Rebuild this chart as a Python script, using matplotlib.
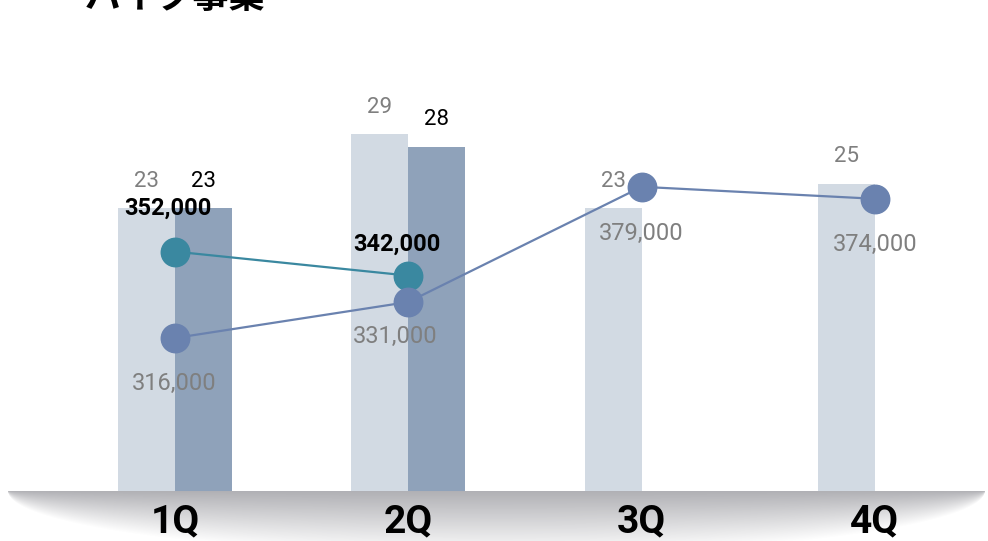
import numpy as np
import matplotlib
matplotlib.use("Agg")
import matplotlib.pyplot as plt

# ---- data ----
quarters = ["1Q", "2Q", "3Q", "4Q"]
units_light = [23, 29, 23, 25]          # light bars
units_dark = [23, 28, None, None]       # dark bars
price_teal = [352000, 342000, None, None]
price_blue = [316000, 331000, 379000, 374000]
title = "バイク事業"

# ---- style ----
W, H, DPI = 988, 541, 100
LIGHT = "#d2dae3"
DARK = "#8fa2ba"
TEAL = "#3a88a0"
BLUE = "#6a82af"
NUM_FONT = ["Roboto", "DejaVu Sans"]
teal_offsets = [(-7, 43), (-11, 31)]          # px: (dx, up)
blue_offsets = [(-1, 45), (-13, 34), (0, 47), (0, 46)]  # px: (dx, down)

fig = plt.figure(figsize=(W / DPI, H / DPI), dpi=DPI)
fig.patch.set_facecolor("white")

# floor shading under the baseline
base_px = 491
bg = fig.add_axes([0, 0, 1, 1], zorder=0)
bg.set_xlim(0, W)
bg.set_ylim(H, 0)
bg.axis("off")
xs = np.arange(W) + 0.5
ys = np.arange(base_px, H) + 0.5
X, Y = np.meshgrid(xs, ys)
a, b = 488.0, 64.0
depth = b * np.sqrt(np.clip(1 - ((X - 496) / a) ** 2, 0, 1))
t = np.where(depth > 0, (Y - base_px) / np.maximum(depth, 1e-6), 1.0)
alpha = np.clip(1 - t, 0, 1) * 0.86
img = np.zeros(X.shape + (4,))
img[..., 0] = 0.64
img[..., 1] = 0.64
img[..., 2] = 0.66
img[..., 3] = alpha
bg.imshow(img, extent=(0, W, H, base_px), aspect="auto", interpolation="bilinear")

# main axes: baseline at 491 px, category centres 175 + 233.33*i px
spacing = 233.33
ax = fig.add_axes([0, (H - base_px) / H, 1, base_px / H], zorder=2)
ax.patch.set_alpha(0)
ax.set_xlim(-175 / spacing, 3 + (W - 875) / spacing)
ax.set_ylim(0, base_px / 12.3)
for s in ax.spines.values():
    s.set_visible(False)
ax.set_xticks([])
ax.set_yticks([])

x = np.arange(len(quarters))
bw = 57 / spacing
lv = np.array(units_light, dtype=float)
dv = np.array([np.nan if v is None else v for v in units_dark], dtype=float)
ax.bar(x - bw / 2, lv, width=bw, color=LIGHT, zorder=2)
ax.bar(x + bw / 2, dv, width=bw, color=DARK, zorder=2)

pt = 72 / DPI
for xi, v in zip(x, units_light):
    ax.annotate(f"{v}", (xi - bw / 2, v), xytext=(0, 27 * pt), textcoords="offset points",
                ha="center", va="center", fontsize=16, color="#7f7f7f",
                family=NUM_FONT, zorder=3)
for xi, v in zip(x, units_dark):
    if v is None:
        continue
    ax.annotate(f"{v}", (xi + bw / 2, v), xytext=(0, 27 * pt), textcoords="offset points",
                ha="center", va="center", fontsize=16, color="black",
                family=NUM_FONT, zorder=3)

# price lines on secondary axis
ax2 = ax.twinx()
ax2.set_zorder(3)
ax2.patch.set_alpha(0)
lo = 252250
ax2.set_ylim(lo, lo + base_px / 2.4 * 1000)
for s in ax2.spines.values():
    s.set_visible(False)
ax2.set_yticks([])

tx = [xi for xi, v in zip(x, price_teal) if v is not None]
tv = [v for v in price_teal if v is not None]
ax2.plot(tx, tv, color=TEAL, lw=1.6, marker="o", ms=20.5, mfc=TEAL, mec=TEAL, zorder=4)
ax2.plot(x, price_blue, color=BLUE, lw=1.6, marker="o", ms=20.5, mfc=BLUE, mec=BLUE, zorder=4)

for xi, v, (dx, up) in zip(tx, tv, teal_offsets):
    ax2.annotate(f"{v:,}", (xi, v), xytext=(dx * pt, up * pt), textcoords="offset points",
                 ha="center", va="center", fontsize=17, fontweight="bold",
                 color="black", family=NUM_FONT, zorder=5)
for xi, v, (dx, dn) in zip(x, price_blue, blue_offsets):
    ax2.annotate(f"{v:,}", (xi, v), xytext=(dx * pt, -dn * pt), textcoords="offset points",
                 ha="center", va="center", fontsize=17, color="#7f7f7f",
                 family=NUM_FONT, zorder=5)

# category labels
for xi, q in zip(x, quarters):
    fig.text((175 + spacing * xi) / W, 1 - 522 / H, q, ha="center", va="center",
             fontsize=28, fontweight="bold", family=NUM_FONT, color="black", zorder=6)

fig.text(85 / W, 1 - 8 / H, title, ha="left", va="baseline", fontsize=26,
         fontweight="bold", family=["Noto Sans CJK JP", "DejaVu Sans"], color="black")

fig.savefig("out.png", dpi=DPI, facecolor="white")
